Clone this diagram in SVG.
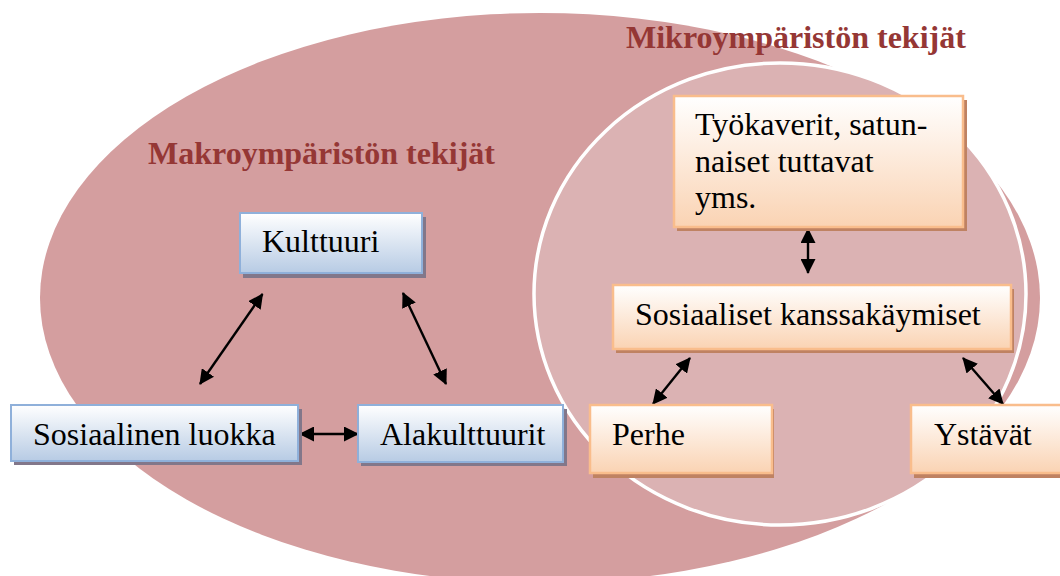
<svg xmlns="http://www.w3.org/2000/svg" width="1060" height="576" viewBox="0 0 1060 576">
<defs>
<linearGradient id="gBlue" x1="0" y1="0" x2="0" y2="1">
<stop offset="0" stop-color="#ffffff"/>
<stop offset="1" stop-color="#b7cbe4"/>
</linearGradient>
<linearGradient id="gOrange" x1="0" y1="0" x2="0" y2="1">
<stop offset="0" stop-color="#ffffff"/>
<stop offset="1" stop-color="#fad3b3"/>
</linearGradient>
<marker id="ah" viewBox="0 0 15 15" refX="14" refY="7.5" markerWidth="15" markerHeight="15" markerUnits="userSpaceOnUse" orient="auto-start-reverse">
<path d="M0,0 L15,7.5 L0,15 Z" fill="#000"/>
</marker>
</defs>
<style>
.t{font-family:"Liberation Serif","Times New Roman",serif;font-size:32px;fill:#000}
.title{font-family:"Liberation Serif","Times New Roman",serif;font-size:32px;font-weight:bold;fill:#953735}
.blue{fill:url(#gBlue);stroke:#8fb0da;stroke-width:2}
.bshadow{fill:#82778a}
.orange{fill:url(#gOrange);stroke:#f9bd8c;stroke-width:2.5}
.oshadow{fill:#bf8262}
.conn line{stroke:#000;stroke-width:2.4;marker-start:url(#ah);marker-end:url(#ah)}
</style>
<rect width="1060" height="576" fill="#ffffff"/>
<g id="background">
<ellipse cx="540" cy="298" rx="500" ry="285" fill="#d49e9f"/>
<ellipse cx="780" cy="294" rx="246" ry="231" fill="#dbb2b3" stroke="#ffffff" stroke-width="3.5"/>
<text class="title" x="148" y="164">Makroympäristön tekijät</text>
<text class="title" x="626" y="48">Mikroympäristön tekijät</text>
</g>
<g id="connectors" class="conn">
<line x1="262.5" y1="294" x2="200" y2="384"/>
<line x1="403" y1="293" x2="446" y2="384"/>
<line x1="300" y1="434" x2="358" y2="434"/>
<line x1="808" y1="229" x2="808" y2="273"/>
<line x1="690" y1="358" x2="653" y2="404"/>
<line x1="963" y1="358" x2="1003" y2="404"/>
</g>
<g id="kulttuuri">
<rect class="bshadow" x="243" y="217" width="183" height="61"/>
<rect class="blue" x="240" y="213" width="182" height="60"/>
<text class="t" x="262" y="252">Kulttuuri</text>
</g>
<g id="sosiaalinen-luokka">
<rect class="bshadow" x="14" y="409" width="288" height="56"/>
<rect class="blue" x="11" y="405" width="287" height="56"/>
<text class="t" x="33" y="445">Sosiaalinen luokka</text>
</g>
<g id="alakulttuurit">
<rect class="bshadow" x="361" y="409" width="206" height="57"/>
<rect class="blue" x="358" y="405" width="205" height="57"/>
<text class="t" x="380" y="445">Alakulttuurit</text>
</g>
<g id="tyokaverit">
<rect class="oshadow" x="677" y="100" width="290" height="131"/>
<rect class="orange" x="674" y="96" width="289" height="131"/>
<text class="t" x="695" y="135">Työkaverit, satun-</text>
<text class="t" x="695" y="172">naiset tuttavat</text>
<text class="t" x="695" y="208">yms.</text>
</g>
<g id="sosiaaliset-kanssakaymiset">
<rect class="oshadow" x="616" y="289" width="398" height="64"/>
<rect class="orange" x="613" y="285" width="398" height="64"/>
<text class="t" x="635" y="325">Sosiaaliset kanssakäymiset</text>
</g>
<g id="perhe">
<rect class="oshadow" x="593" y="409" width="181" height="69"/>
<rect class="orange" x="590" y="405" width="182" height="68"/>
<text class="t" x="612" y="445">Perhe</text>
</g>
<g id="ystavat">
<rect class="oshadow" x="914" y="409" width="160" height="69"/>
<rect class="orange" x="911" y="405" width="160" height="68"/>
<text class="t" x="934" y="445">Ystävät</text>
</g>
</svg>
